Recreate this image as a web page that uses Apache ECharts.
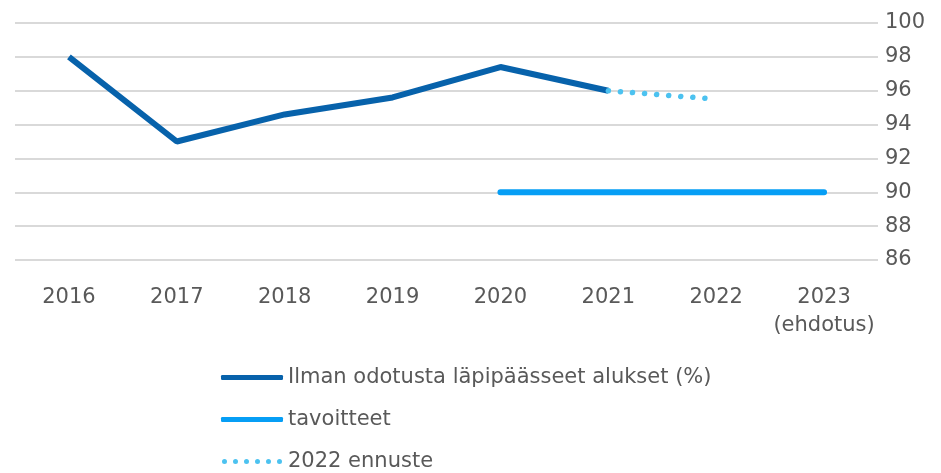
<!DOCTYPE html>
<html>
<head>
<meta charset="utf-8">
<script src="https://cdn.jsdelivr.net/npm/echarts@6/dist/echarts.min.js"></script>
<style>
  html, body { margin: 0; padding: 0; background: #fff; }
  #chart { width: 941px; height: 473px; }
</style>
</head>
<body>
<div id="chart"></div>
<script>
// vuodet
const years = ['2016', '2017', '2018', '2019', '2020', '2021', '2022', '2023\n(ehdotus)'];
// toteutunut
const actual = [98, 93, 94.6, 95.6, 97.4, 96, null, null];
// tavoitteet
const targets = [null, null, null, null, 90, 90, 90, 90];
// ennuste
const forecast = [null, null, null, null, null, 96, 95.5, null];

const textColor = '#595959';
const font = 'DejaVu Sans';
// pisteviiva legendaan
const dotIcon = 'path://' + [2.5, 13.5, 24.5, 35.5, 46.5, 57.5]
      .map(c => `M${c - 2.5} 2.5a2.5 2.5 0 1 0 5 0a2.5 2.5 0 1 0 -5 0Z`).join('');

const chart = echarts.init(document.getElementById('chart'));
chart.setOption({
      animation: false,
      grid: { left: 15, right: 63, top: 23, bottom: 213 },
      legend: {
            orient: 'vertical',
            left: 216,
            top: 362,
            height: 110,
            itemWidth: 62,
            itemHeight: 5,
            itemGap: 21,
            data: [
                  { name: 'Ilman odotusta läpipäässeet alukset (%)', icon: 'roundRect' },
                  { name: 'tavoitteet', icon: 'roundRect' },
                  { name: '2022 ennuste', icon: dotIcon }
            ],
            textStyle: { color: textColor, fontSize: 21, fontFamily: font }
      },
      xAxis: {
            type: 'category',
            data: years,
            axisLine: { show: false },
            axisTick: { show: false },
            axisLabel: { color: textColor, fontSize: 21, fontFamily: font, margin: 24, lineHeight: 28, interval: 0 }
      },
      yAxis: {
            type: 'value',
            position: 'right',
            min: 86,
            max: 100,
            interval: 2,
            axisLine: { show: false },
            axisTick: { show: false },
            axisLabel: { color: textColor, fontSize: 21, fontFamily: font, margin: 7 },
            splitLine: { lineStyle: { color: '#d9d9d9', width: 2 } }
      },
      series: [
            {
                  name: 'Ilman odotusta läpipäässeet alukset (%)',
                  type: 'line',
                  data: actual,
                  symbol: 'none',
                  lineStyle: { color: '#0762ab', width: 6 },
                  itemStyle: { color: '#0762ab' }
            },
            {
                  name: 'tavoitteet',
                  type: 'line',
                  data: targets,
                  symbol: 'none',
                  lineStyle: { color: '#069ef5', width: 6, cap: 'round' },
                  itemStyle: { color: '#069ef5' }
            },
            {
                  name: '2022 ennuste',
                  type: 'line',
                  data: forecast,
                  symbol: 'none',
                  lineStyle: { color: '#4cc2f0', width: 5.5, type: [0.1, 12], cap: 'round' },
                  itemStyle: { color: '#4cc2f0' }
            }
      ]
});
window.addEventListener('resize', () => chart.resize());
</script>
</body>
</html>
